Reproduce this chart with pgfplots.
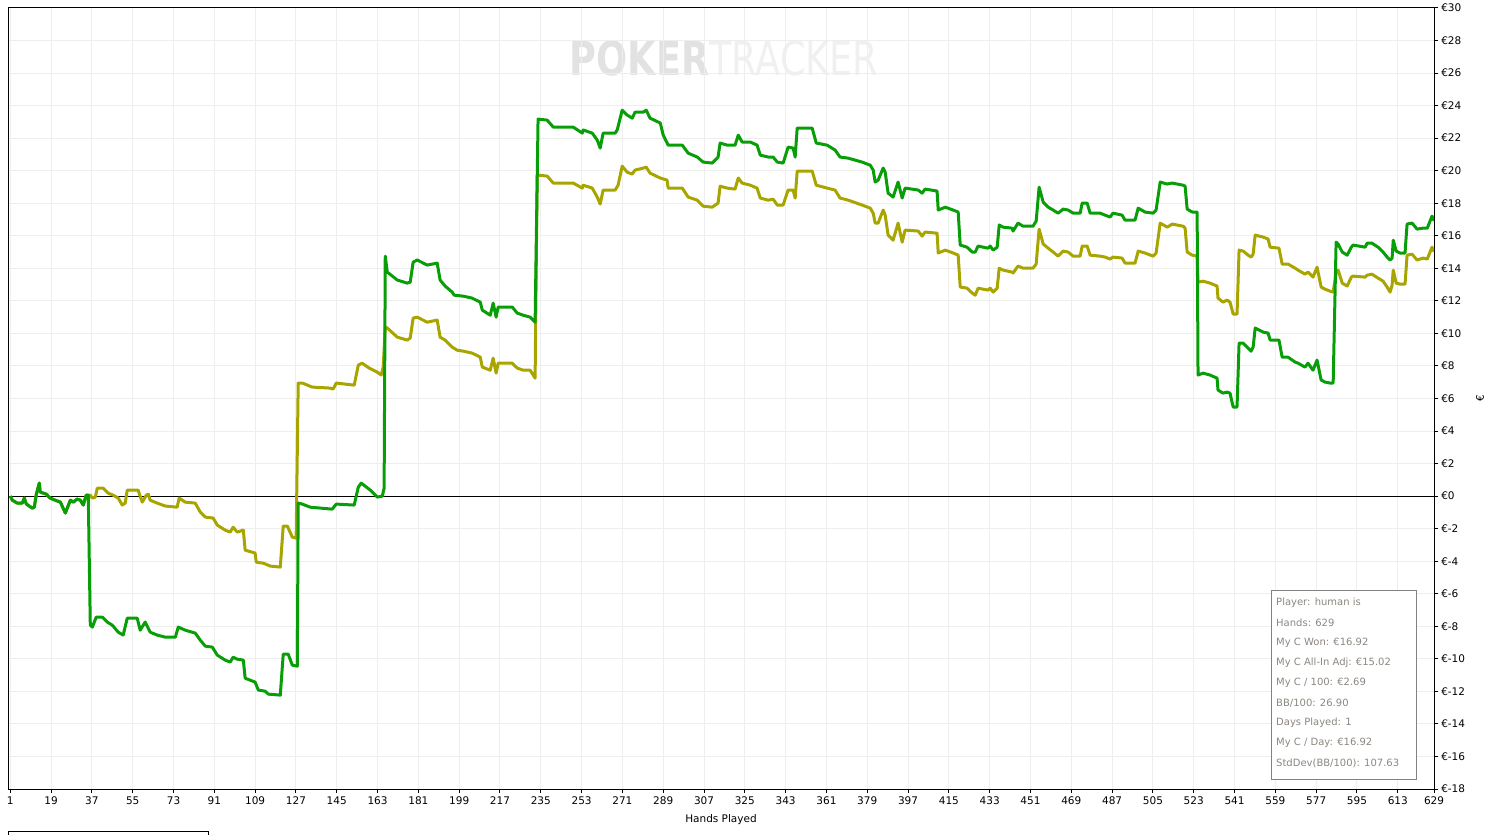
\documentclass[border=0pt]{standalone}
\usepackage{pgfplots}
\pgfplotsset{compat=1.18}
\usepackage{fontspec}
\setmainfont{DejaVu Sans}
\definecolor{pgreen}{RGB}{8,158,8}
\definecolor{polive}{RGB}{168,164,0}
\definecolor{gridgray}{RGB}{238,238,238}
\definecolor{boxtext}{RGB}{140,135,128}
\definecolor{boxline}{RGB}{130,130,130}
\definecolor{wmdark}{RGB}{226,226,226}
\definecolor{wmlight}{RGB}{240,240,240}
\begin{document}
\begin{tikzpicture}[x=1pt,y=1pt]
\path[use as bounding box] (0,0) rectangle (1495,835);
% watermark
\node[xscale=0.78, anchor=center, inner sep=0pt] at (724,777)
  {\fontsize{47}{50}\selectfont\textbf{\color{wmdark}POKER}{\color{wmlight}TRACKER}};
\begin{axis}[
  at={(8pt,46pt)}, anchor=south west,
  width=1426pt, height=781pt, scale only axis,
  xmin=0, xmax=629, ymin=-18, ymax=30,
  xtick={1,19,...,613,629},
  ytick={-18,-16,...,30},
  yticklabels={€-18,€-16,€-14,€-12,€-10,€-8,€-6,€-4,€-2,€0,€2,€4,€6,€8,€10,€12,€14,€16,€18,€20,€22,€24,€26,€28,€30},
  grid=major, major grid style={gridgray, line width=1pt},
  axis line style={black, line width=1pt},
  tick style={black, line width=1pt}, tick align=outside, major tick length=4pt,
  xtick pos=bottom, ytick pos=right, yticklabel pos=right,
  /pgf/number format/assume math mode=true,
  /pgf/number format/set thousands separator={},
  font=\fontsize{10.5}{12}\selectfont,
  xticklabel style={inner sep=2pt, yshift=-2pt},
  yticklabel style={inner sep=2pt, anchor=west, xshift=1pt},
  xlabel={Hands Played},
  xlabel style={at={(axis description cs:0.5,0)}, anchor=center, yshift=-31pt},
  ylabel={€},
  ylabel style={at={(axis description cs:1.0323,0.5)}, anchor=center},
]
\addplot[black, line width=1pt, forget plot] coordinates {(0,0) (629,0)};
% All-in adjusted (olive)
\addplot[polive, line width=3pt, line join=round] coordinates {
(1,0.00)(1.9,-0.25)(4.1,-0.43)(6.3,-0.43)(7.2,-0.12)(8.1,-0.49)(10.7,-0.74)(11.6,-0.68)(12.5,0.12)(13.8,0.80)(14.2,0.25)(16.9,0.12)(18.6,-0.12)(20.8,-0.25)(23.1,-0.37)(25.3,-1.04)(27.5,-0.25)(28.8,-0.37)(30.5,-0.18)(31.9,-0.25)(33.2,-0.55)(34.5,0.06)(35.4,0.06)
(36.3,0.06)(37.2,-0.12)(38.5,-0.06)(39.4,0.49)(42.0,0.49)(44.2,0.18)(46.4,0.06)(48.6,-0.12)(50.4,-0.55)(51.7,-0.43)(52.6,0.37)(57.4,0.37)(59.2,-0.37)(61.0,0.06)(61.9,0.12)(62.7,-0.25)(65.8,-0.43)(69.4,-0.61)(74.6,-0.68)(75.5,-0.12)(78.2,-0.37)(82.6,-0.43)(84.8,-0.98)(87.0,-1.29)(90.5,-1.35)(92.3,-1.78)(95.8,-2.09)(98.0,-2.21)(99.3,-1.91)(101.1,-2.21)(103.8,-2.09)(104.6,-3.32)(109.0,-3.50)(109.5,-4.06)(112.6,-4.12)(115.7,-4.30)(120.1,-4.36)(121.4,-1.84)(123.2,-1.84)(125.4,-2.52)(127.1,-2.58)
(128.0,6.95)(129.8,6.95)(134.2,6.70)(142.1,6.64)(143.4,6.58)(144.8,6.95)(152.7,6.82)(154.5,8.05)(156.2,8.17)(159.3,7.87)(162.9,7.62)(164.6,7.44)(165.5,7.93)(166.4,10.39)(167.3,10.33)(171.7,9.77)(176.1,9.59)(177.4,9.71)(178.7,10.94)(180.5,11.00)(184.9,10.69)(189.3,10.82)(190.6,9.77)(192.8,9.59)(195.9,9.16)(198.1,8.97)(200.8,8.91)(204.7,8.79)(208.3,8.54)(209.2,7.93)(212.7,7.74)(214.0,8.48)(215.3,7.56)(216.2,8.17)(222.4,8.17)(224.6,7.87)(227.2,7.74)(230.3,7.74)(232.5,7.25)
(233.4,19.73)(237.8,19.67)(240.5,19.24)(249.3,19.24)(253.3,18.93)(253.7,19.11)(257.7,18.93)(259.9,18.38)(261.2,17.95)(262.5,18.81)(267.8,18.81)(269.1,19.11)(270.9,20.28)(273.1,19.91)(275.3,19.79)(276.6,20.04)(280.2,20.16)(281.5,20.22)(283.2,19.85)(287.7,19.55)(290.7,19.42)(291.2,18.93)(297.4,18.93)(300.0,18.38)(304.0,18.19)(306.6,17.82)(310.6,17.76)(313.2,18.01)(314.1,19.05)(317.2,18.93)(320.7,18.87)(322.1,19.55)(323.8,19.24)(327.4,19.11)(330.4,18.93)(331.8,18.32)(335.3,18.19)(337.5,18.25)(339.3,17.89)(341.9,17.89)(344.1,18.81)(346.3,18.81)(347.2,18.32)(348.1,19.98)(354.7,19.98)(356.5,19.11)(361.3,18.93)(364.8,18.81)(367.0,18.32)(370.6,18.19)(376.7,17.89)(380.3,17.70)(381.6,17.39)(382.5,16.78)(383.8,16.78)(386.0,17.58)(386.9,17.27)(388.2,16.04)(390.4,15.73)(392.6,16.78)(394.4,15.61)(395.7,16.35)(401.5,16.29)(403.2,15.98)(404.5,16.23)(409.8,16.16)(410.3,14.94)(413.4,15.12)(416.9,14.94)(419.1,14.81)
(420.0,12.85)(423.0,12.78)(425.3,12.48)(426.6,12.35)(427.9,12.78)(430.1,12.72)(432.3,12.66)(433.2,12.78)(434.5,12.54)(436.3,12.78)(437.2,14.01)(438.9,13.89)(442.9,13.77)(443.3,13.71)(445.5,14.14)(447.7,14.01)(452.1,14.01)(453.5,14.26)(454.8,16.41)(456.6,15.49)(458.8,15.24)(461.0,15.00)(463.2,14.75)(465.4,15.06)(467.6,15.00)(469.8,14.75)(472.9,14.75)(473.8,15.37)(476.0,15.37)(477.3,14.81)(481.7,14.75)(483.9,14.69)(486.1,14.57)(487.4,14.69)(491.4,14.63)(492.7,14.32)(497.1,14.32)(498.5,15.06)(501.5,14.94)(505.1,14.75)(506.4,14.94)(508.2,16.78)(511.3,16.53)(513.5,16.72)(518.3,16.59)(519.2,16.47)(520.1,15.00)(522.3,14.81)(524.5,14.75)
(524.9,13.15)(527.1,13.21)(530.2,13.09)(533.3,12.91)(533.7,12.17)(535.9,11.92)(537.7,12.05)(539.0,11.92)(540.4,11.19)(542.1,11.19)(543.0,15.12)(544.8,15.06)(547.0,14.81)(548.3,14.69)(549.2,14.87)(550.1,16.04)(553.6,15.92)(555.8,15.80)(556.7,15.30)(560.6,15.24)(562.0,14.26)(564.6,14.26)(567.7,14.01)(569.0,13.89)(572.1,13.64)(573.4,13.77)(575.6,13.46)(577.4,14.07)(579.2,12.85)(580.9,12.72)(583.1,12.60)(584.5,12.54)(585.8,13.71)(586.7,13.89)(588.5,13.09)(590.7,12.91)(592.5,13.46)(593.3,13.52)(598.6,13.46)(599.5,13.58)(601.6,13.64)(604.3,13.40)(606.5,13.21)(608.3,12.85)(609.6,12.54)(610.5,12.97)(611.0,13.89)(612.3,13.09)(614.0,13.03)(616.2,13.03)(617.1,14.81)(619.3,14.87)(621.5,14.51)(624.2,14.63)(626.0,14.57)(628.1,15.30)(629.0,15.02)
};
% Won (green)
\addplot[pgreen, line width=3pt, line join=round] coordinates {
(1,0.00)(1.9,-0.25)(4.1,-0.43)(6.3,-0.43)(7.2,-0.12)(8.1,-0.49)(10.7,-0.74)(11.6,-0.68)(12.5,0.12)(13.8,0.80)(14.2,0.25)(16.9,0.12)(18.6,-0.12)(20.8,-0.25)(23.1,-0.37)(25.3,-1.04)(27.5,-0.25)(28.8,-0.37)(30.5,-0.18)(31.9,-0.25)(33.2,-0.55)(34.5,0.06)(35.4,0.06)
(36.3,-7.93)(37.2,-8.05)(38.9,-7.44)(41.6,-7.44)(43.8,-7.74)(46.0,-7.93)(48.6,-8.36)(50.8,-8.54)(52.6,-7.50)(57.0,-7.50)(58.3,-8.24)(60.5,-7.74)(62.7,-8.36)(65.8,-8.54)(69.4,-8.67)(73.8,-8.67)(75.1,-8.05)(78.2,-8.24)(82.6,-8.42)(84.8,-8.85)(87.0,-9.22)(90.1,-9.28)(92.3,-9.77)(95.8,-10.08)(98.0,-10.20)(99.3,-9.90)(101.1,-10.02)(103.8,-10.08)(104.6,-11.19)(109.0,-11.43)(110.4,-11.92)(113.5,-11.99)(114.8,-12.17)(120.1,-12.23)(121.4,-9.71)(123.6,-9.71)(125.4,-10.39)(127.6,-10.45)
(128.0,-0.43)(129.8,-0.49)(133.3,-0.68)(143.0,-0.80)(144.8,-0.49)(152.7,-0.55)(154.5,0.55)(155.8,0.80)(159.8,0.37)(162.9,-0.06)(165.1,0.00)(165.9,0.49)(166.4,14.75)(167.3,13.77)(171.7,13.28)(176.1,13.09)(177.4,13.15)(178.7,14.38)(180.5,14.51)(184.9,14.20)(189.3,14.32)(190.6,13.28)(192.8,12.91)(195.9,12.54)(196.8,12.35)(200.8,12.29)(204.7,12.17)(208.3,11.92)(209.2,11.43)(212.7,11.12)(214.0,11.86)(215.3,11.00)(216.2,11.62)(222.4,11.62)(224.6,11.25)(227.2,11.12)(230.3,11.00)(232.5,10.69)
(233.8,23.17)(237.8,23.11)(240.5,22.68)(249.3,22.68)(253.3,22.31)(253.7,22.50)(257.7,22.31)(259.9,21.88)(261.2,21.39)(262.5,22.31)(267.8,22.31)(268.7,22.50)(270.9,23.72)(273.1,23.42)(275.3,23.23)(276.6,23.60)(280.2,23.60)(281.5,23.72)(283.2,23.23)(287.7,22.93)(289.0,22.19)(291.2,21.57)(297.4,21.57)(300.0,21.08)(304.0,20.84)(306.6,20.53)(310.6,20.47)(313.2,20.84)(314.1,21.70)(317.2,21.57)(320.7,21.57)(322.1,22.19)(323.8,21.76)(327.4,21.76)(330.4,21.57)(331.8,20.96)(335.3,20.84)(337.5,20.84)(339.3,20.53)(341.9,20.47)(344.1,21.45)(346.3,21.39)(347.2,20.84)(348.1,22.62)(354.7,22.62)(356.5,21.70)(361.3,21.57)(364.8,21.27)(367.0,20.84)(370.6,20.77)(376.7,20.53)(380.3,20.34)(381.6,20.04)(382.5,19.30)(383.8,19.42)(386.0,20.16)(386.9,19.91)(388.2,18.62)(390.4,18.38)(392.6,19.30)(394.4,18.32)(395.7,18.93)(401.5,18.81)(403.2,18.62)(404.5,18.87)(409.8,18.75)(410.3,17.58)(413.4,17.76)(416.9,17.58)(419.1,17.46)
(420.0,15.43)(423.0,15.30)(425.3,15.00)(426.6,15.00)(427.9,15.37)(430.1,15.30)(432.3,15.24)(433.2,15.37)(434.5,15.12)(436.3,15.30)(437.2,16.66)(438.9,16.53)(442.9,16.47)(443.3,16.29)(445.5,16.78)(447.7,16.59)(452.1,16.59)(453.5,16.90)(454.8,18.99)(456.6,18.07)(458.8,17.76)(461.0,17.58)(463.2,17.39)(465.4,17.64)(467.6,17.58)(469.8,17.39)(472.9,17.39)(473.8,18.01)(476.0,18.01)(477.3,17.39)(481.7,17.39)(483.9,17.27)(486.1,17.15)(487.4,17.39)(491.4,17.27)(492.7,16.96)(497.1,16.96)(498.5,17.70)(501.5,17.46)(505.1,17.39)(506.4,17.58)(508.2,19.30)(511.3,19.18)(513.5,19.24)(518.3,19.11)(519.2,19.05)(520.1,17.64)(522.3,17.46)(524.5,17.46)
(524.9,7.44)(527.1,7.56)(530.2,7.44)(533.3,7.25)(533.7,6.52)(535.9,6.33)(537.7,6.39)(539.0,6.33)(540.4,5.47)(542.1,5.47)(543.0,9.40)(544.8,9.40)(547.0,9.10)(548.3,8.91)(549.2,9.16)(550.1,10.33)(553.6,10.08)(555.8,10.02)(556.7,9.59)(560.6,9.59)(562.0,8.54)(564.6,8.54)(567.7,8.24)(569.0,8.17)(572.1,7.93)(573.4,8.17)(575.6,7.74)(577.4,8.36)(579.2,7.13)(580.9,7.01)(583.1,6.95)(584.5,6.95)(585.8,15.61)(586.7,15.49)(588.5,15.00)(590.7,14.81)(592.5,15.30)(593.3,15.43)(598.6,15.30)(599.5,15.55)(601.6,15.55)(604.3,15.30)(606.5,15.00)(608.3,14.69)(609.6,14.51)(610.5,14.63)(611.0,15.73)(612.3,15.06)(614.0,14.94)(616.2,14.94)(617.1,16.72)(619.3,16.78)(621.5,16.41)(624.2,16.47)(626.0,16.47)(628.1,17.21)(629.0,16.92)
};
\end{axis}
% stats box
\draw[boxline, line width=1pt, fill=white] (1271,56) rectangle (1416,244);
\begin{scope}[every node/.style={anchor=west, inner sep=0pt, text=boxtext, font=\fontsize{10}{12}\selectfont}]
\node at (1276,232) {Player: human is};
\node at (1276,212) {Hands: 629};
\node at (1276,192) {My C Won: €16.92};
\node at (1276,172) {My C All-In Adj: €15.02};
\node at (1276,152) {My C / 100: €2.69};
\node at (1276,132) {BB/100: 26.90};
\node at (1276,112) {Days Played: 1};
\node at (1276,92) {My C / Day: €16.92};
\node at (1276,72) {StdDev(BB/100): 107.63};
\end{scope}
% partial legend frame at bottom left
\draw[black, line width=1pt] (8,0) -- (8,4) -- (208,4) -- (208,0);
\end{tikzpicture}
\end{document}
